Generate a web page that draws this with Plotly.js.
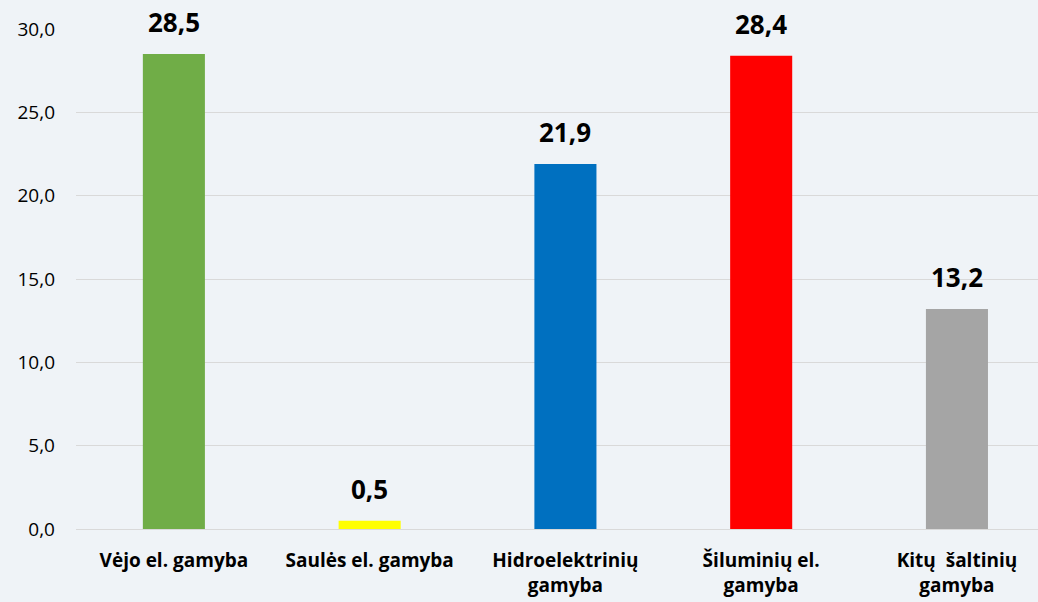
<!DOCTYPE html>
<html>
<head>
<meta charset="utf-8">
<script src="https://cdn.plot.ly/plotly-3.0.1.min.js"></script>
<style>
  html, body { margin: 0; padding: 0; background: #EFF3F7; }
  #chart { width: 1038px; height: 602px; }
</style>
</head>
<body>
<div id="chart"></div>
<script>
// Electricity production by source
var categories = ['Vėjo el. gamyba', 'Saulės el. gamyba', 'Hidroelektrinių<br>gamyba', 'Šiluminių el.<br>gamyba', 'Kitų\u00a0 šaltinių<br>gamyba'];
var values = [28.5, 0.5, 21.9, 28.4, 13.2];
var barColors = ['#70AD47', '#FFFF00', '#0070C0', '#FF0000', '#A5A5A5'];
var yTicks = [0, 5, 10, 15, 20, 25, 30];

var fontFamily = '"Open Sans", "Liberation Sans", sans-serif';

var trace = {
  type: 'bar',
  x: categories,
  y: values,
  marker: { color: barColors },
  hoverinfo: 'none'
};

// value labels above the bars
var labels = [];
for (var i = 0; i < categories.length; i++) {
  labels.push({
    x: categories[i],
    y: values[i],
    text: '<b>' + values[i].toFixed(1).replace('.', ',') + '</b>',
    showarrow: false,
    yanchor: 'bottom',
    yshift: 12,
    font: { family: fontFamily, size: 26, color: '#000000' }
  });
}

var layout = {
  width: 1038,
  height: 602,
  margin: { l: 76, r: 0, t: 29, b: 73 },
  paper_bgcolor: '#EFF3F7',
  plot_bgcolor: '#EFF3F7',
  separators: ',.',
  bargap: 0.683,
  showlegend: false,
  font: { family: fontFamily, color: '#000000' },
  annotations: labels,
  xaxis: {
    range: [-0.5, 4.414],
    showgrid: false,
    showline: true,
    linecolor: '#D9D9D9',
    linewidth: 1,
    ticks: '',
    ticklabelstandoff: 14,
    tickfont: { family: fontFamily, size: 19, color: '#000000', weight: 'bold' },
    fixedrange: true
  },
  yaxis: {
    range: [0, 30],
    tickvals: yTicks,
    tickformat: '.1f',
    showgrid: true,
    gridcolor: '#D9D9D9',
    gridwidth: 1,
    zeroline: false,
    showline: false,
    ticks: '',
    ticklabelstandoff: 20,
    tickfont: { family: fontFamily, size: 19, color: '#000000' },
    fixedrange: true
  }
};

Plotly.newPlot('chart', [trace], layout, { displayModeBar: false, staticPlot: true });
</script>
</body>
</html>
